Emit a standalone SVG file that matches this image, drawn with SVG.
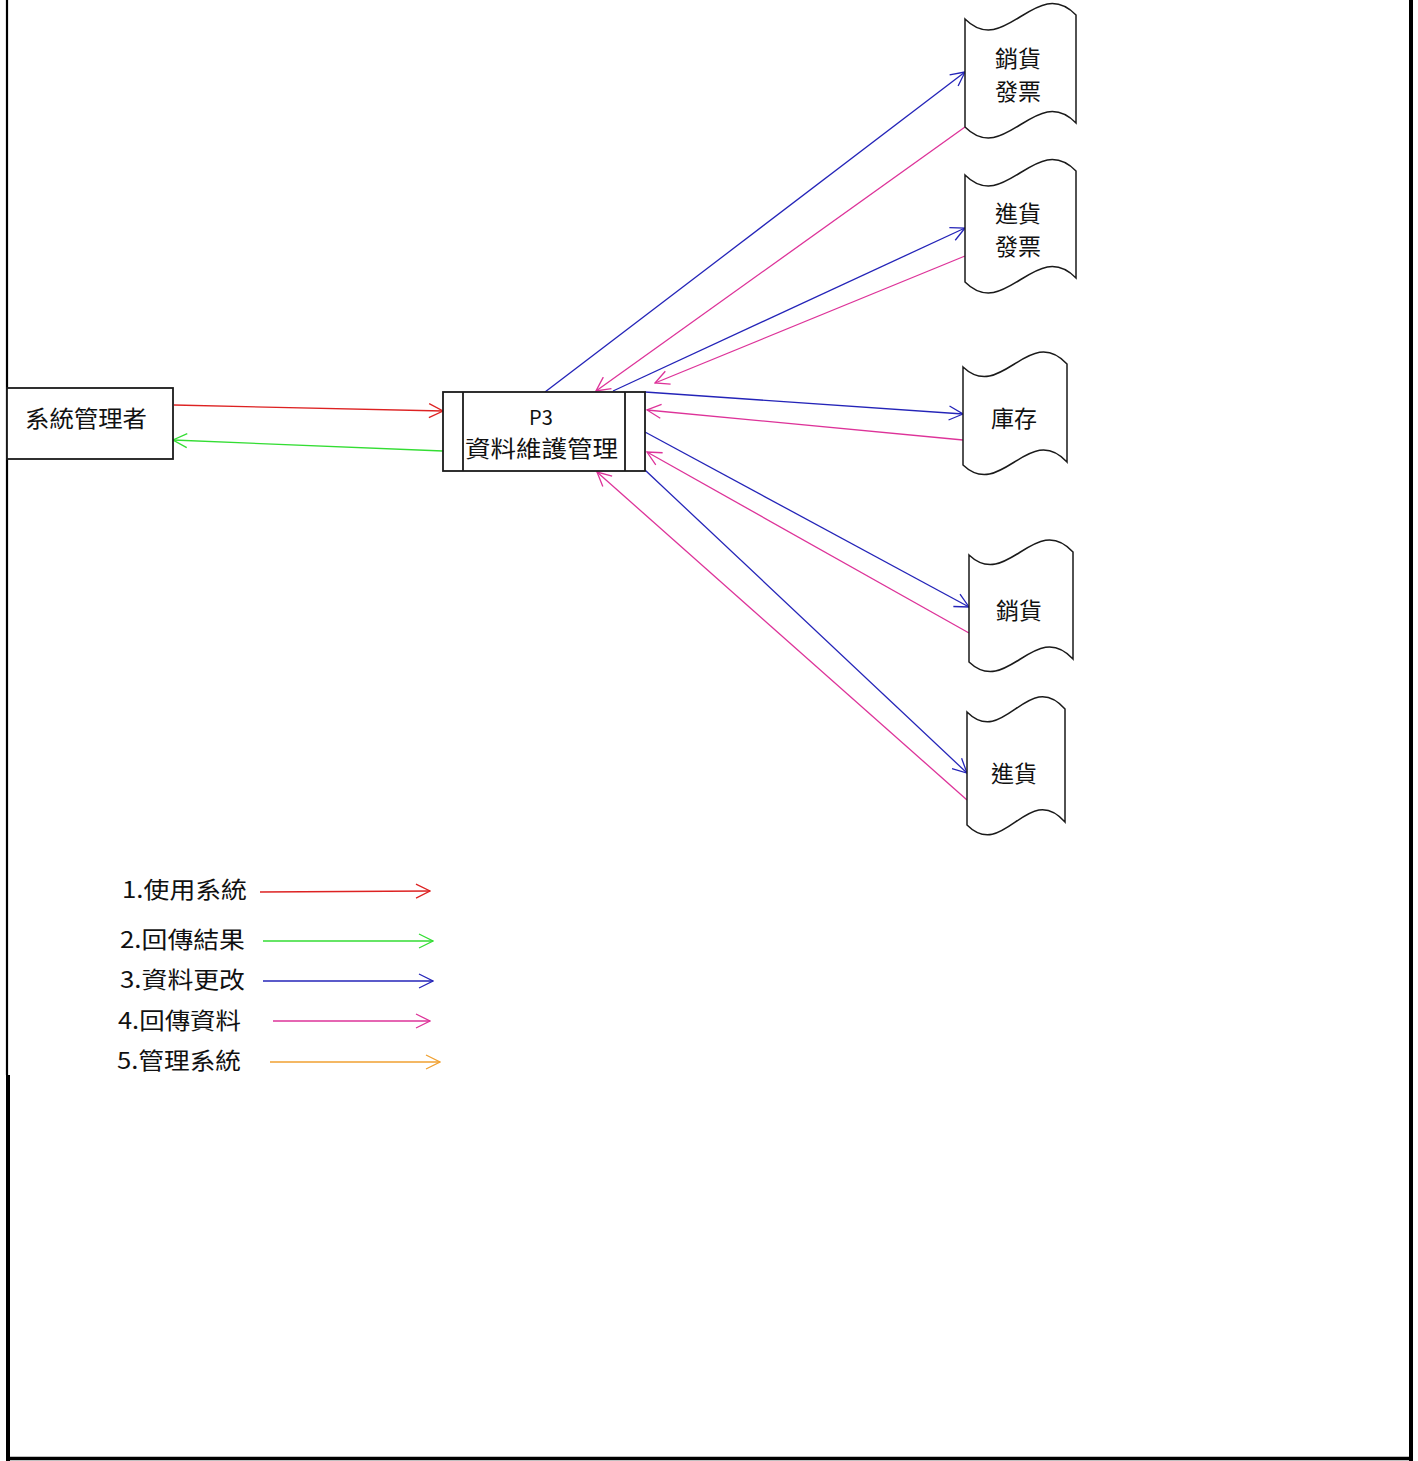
<svg xmlns="http://www.w3.org/2000/svg" width="1418" height="1461" viewBox="0 0 1418 1461">
<style>
.bg{fill:#ffffff}
.box{fill:#ffffff;stroke:#1a1a1a;stroke-width:1.8}
.doc{fill:#ffffff;stroke:#1a1a1a;stroke-width:1.5}
.t{font-family:"Noto Sans CJK TC","Noto Sans",sans-serif;fill:#111111;font-size:23px}
.tm{text-anchor:middle}
.c{fill:none;stroke-width:1.3}
.red{stroke:#dd2222}
.green{stroke:#33dd33}
.blue{stroke:#2424b8}
.mag{stroke:#dd3399}
.orange{stroke:#f0a030}
.frame{stroke:#000000;fill:none}
</style>
<defs>
<marker id="ar" viewBox="0 0 16 16" refX="15" refY="8" markerWidth="16" markerHeight="16" markerUnits="userSpaceOnUse" orient="auto"><path d="M1,1 L15,8 L1,15" fill="none" stroke="#dd2222" stroke-width="1.3"/></marker>
<marker id="ag" viewBox="0 0 16 16" refX="15" refY="8" markerWidth="16" markerHeight="16" markerUnits="userSpaceOnUse" orient="auto"><path d="M1,1 L15,8 L1,15" fill="none" stroke="#33dd33" stroke-width="1.3"/></marker>
<marker id="ab" viewBox="0 0 16 16" refX="15" refY="8" markerWidth="16" markerHeight="16" markerUnits="userSpaceOnUse" orient="auto"><path d="M1,1 L15,8 L1,15" fill="none" stroke="#2424b8" stroke-width="1.3"/></marker>
<marker id="am" viewBox="0 0 16 16" refX="15" refY="8" markerWidth="16" markerHeight="16" markerUnits="userSpaceOnUse" orient="auto"><path d="M1,1 L15,8 L1,15" fill="none" stroke="#dd3399" stroke-width="1.3"/></marker>
<marker id="ao" viewBox="0 0 16 16" refX="15" refY="8" markerWidth="16" markerHeight="16" markerUnits="userSpaceOnUse" orient="auto"><path d="M1,1 L15,8 L1,15" fill="none" stroke="#f0a030" stroke-width="1.3"/></marker>
</defs>
<rect class="bg" x="0" y="0" width="1418" height="1461"/>

<g id="frame">
<line class="frame" x1="7" y1="0" x2="7" y2="1075" stroke-width="2.2"/>
<line class="frame" x1="8" y1="1075" x2="8" y2="1461" stroke-width="4"/>
<line class="frame" x1="6" y1="1458.5" x2="1413" y2="1458.5" stroke-width="3.5"/>
<line class="frame" x1="1411" y1="0" x2="1411" y2="1461" stroke-width="4"/>
</g>

<g id="connectors">
<path class="c red" d="M174,405 L443,411" marker-end="url(#ar)"/>
<path class="c green" d="M443,451 L173,440" marker-end="url(#ag)"/>
<path class="c blue" d="M545,392 L965,72" marker-end="url(#ab)"/>
<path class="c mag" d="M965,127 L596,391" marker-end="url(#am)"/>
<path class="c blue" d="M613,391 L965,228" marker-end="url(#ab)"/>
<path class="c mag" d="M965,256 L655,383" marker-end="url(#am)"/>
<path class="c blue" d="M645,392 L963,414" marker-end="url(#ab)"/>
<path class="c mag" d="M963,440 L647,410" marker-end="url(#am)"/>
<path class="c blue" d="M645,432 L969,607" marker-end="url(#ab)"/>
<path class="c mag" d="M969,633 L647,452" marker-end="url(#am)"/>
<path class="c blue" d="M645,470 L967,773" marker-end="url(#ab)"/>
<path class="c mag" d="M967,800 L597,472" marker-end="url(#am)"/>
</g>

<g id="admin">
<rect class="box" x="7" y="388" width="166" height="71"/>
<text class="t" x="25" y="427" textLength="122" lengthAdjust="spacingAndGlyphs">系統管理者</text>
</g>

<g id="p3">
<rect class="box" x="443" y="392" width="202" height="79"/>
<line class="box" x1="463" y1="392" x2="463" y2="471"/>
<line class="box" x1="625" y1="392" x2="625" y2="471"/>
<text class="t tm" x="541" y="425" style="font-size:20px">P3</text>
<text class="t" x="465" y="457" textLength="153" lengthAdjust="spacingAndGlyphs">資料維護管理</text>
</g>

<g id="doc-sales-invoice">
<path class="doc" d="M965,19 C1005,59 1036,-26 1076,15 L1076,123 C1036,82 1005,167 965,127 Z"/>
<text class="t tm" x="1018" y="67">銷貨</text>
<text class="t tm" x="1018" y="100">發票</text>
</g>

<g id="doc-purchase-invoice">
<path class="doc" d="M965,175 C1005,215 1036,130 1076,171 L1076,278 C1036,237 1005,322 965,282 Z"/>
<text class="t tm" x="1018" y="222">進貨</text>
<text class="t tm" x="1018" y="255">發票</text>
</g>

<g id="doc-stock">
<path class="doc" d="M963,367 C1001,403 1029,323 1067,364 L1067,462 C1029,421 1001,501 963,465 Z"/>
<text class="t tm" x="1014" y="427">庫存</text>
</g>

<g id="doc-sales">
<path class="doc" d="M969,555 C1007,591 1035,511 1073,552 L1073,659 C1035,618 1007,698 969,662 Z"/>
<text class="t tm" x="1019" y="619">銷貨</text>
</g>

<g id="doc-purchase">
<path class="doc" d="M967,712 C1004,749 1028,667 1065,709 L1065,822 C1028,780 1004,862 967,825 Z"/>
<text class="t tm" x="1014" y="782">進貨</text>
</g>

<g id="legend">
<text class="t" x="122" y="898" textLength="125" lengthAdjust="spacingAndGlyphs">1.使用系統</text>
<path class="c red" d="M260,892 L430,891" marker-end="url(#ar)"/>
<text class="t" x="120" y="948" textLength="125" lengthAdjust="spacingAndGlyphs">2.回傳結果</text>
<path class="c green" d="M263,941 L433,941" marker-end="url(#ag)"/>
<text class="t" x="120" y="988" textLength="125" lengthAdjust="spacingAndGlyphs">3.資料更改</text>
<path class="c blue" d="M263,981 L433,981" marker-end="url(#ab)"/>
<text class="t" x="118" y="1029" textLength="123" lengthAdjust="spacingAndGlyphs">4.回傳資料</text>
<path class="c mag" d="M273,1021 L430,1021" marker-end="url(#am)"/>
<text class="t" x="117" y="1069" textLength="124" lengthAdjust="spacingAndGlyphs">5.管理系統</text>
<path class="c orange" d="M270,1062 L440,1062" marker-end="url(#ao)"/>
</g>
</svg>
